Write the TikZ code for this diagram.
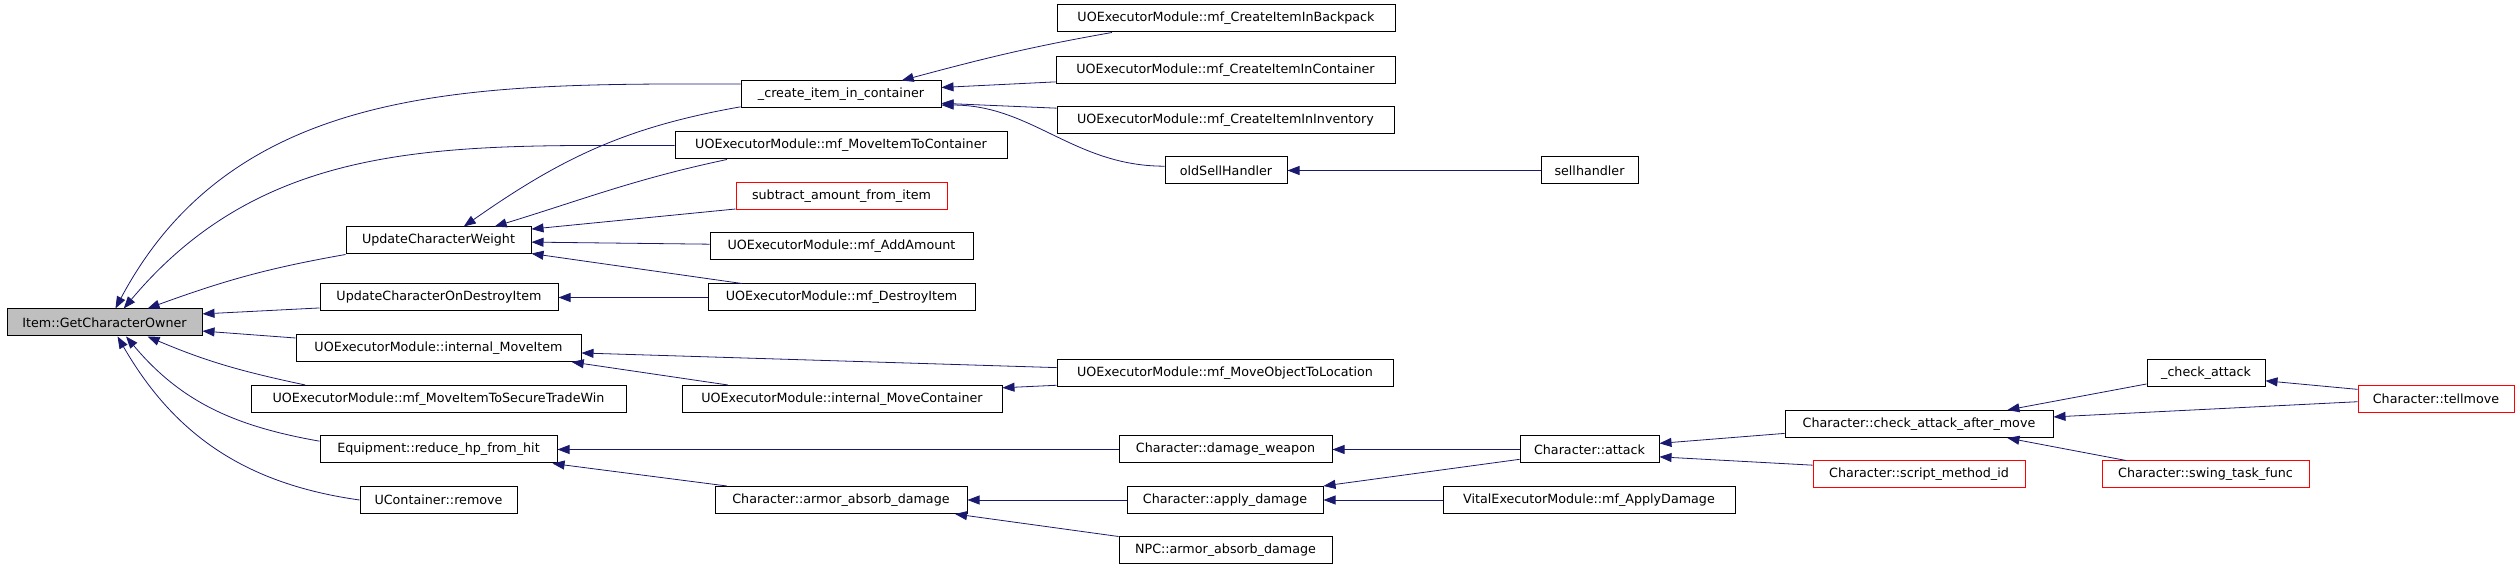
\documentclass[tikz,border=0pt]{standalone}
\usepackage{fontspec}
\setmainfont{DejaVu Sans}
\usepackage{xcolor}
\usepackage{tikz}
\usetikzlibrary{arrows.meta}
\definecolor{midnightblue}{RGB}{25,25,112}
\definecolor{ownergray}{RGB}{191,191,191}

\begin{document}
\begin{tikzpicture}[x=1pt, y=1pt, >={Triangle[length=12pt, width=9pt]},
    fn/.style={draw=black, line width=1pt, minimum height=27, inner sep=0pt,
      font=\fontsize{12.7}{15}\selectfont},
    fnred/.style={fn, draw=red},
    call/.style={->, midnightblue, line width=0.8pt}]
        \useasboundingbox (0,0) rectangle (2520,569);
        % Callee
        \node[fn, fill=ownergray, minimum width=195] (own) at (104.5,246.5) {Item::GetCharacterOwner};
        % First rank
        \node[fn, minimum width=185] (ucw) at (438.5,328.5) {UpdateCharacterWeight};
        \node[fn, minimum width=238] (ucod) at (439,271.5) {UpdateCharacterOnDestroyItem};
        \node[fn, minimum width=285] (imi) at (438.5,221) {UOExecutorModule::internal\_MoveItem};
        \node[fn, minimum width=375] (secure) at (438.5,170) {UOExecutorModule::mf\_MoveItemToSecureTradeWin};
        \node[fn, minimum width=237] (rhp) at (438.5,119.5) {Equipment::reduce\_hp\_from\_hit};
        \node[fn, minimum width=157] (remove) at (438.5,69) {UContainer::remove};
        % Second rank
        \node[fn, minimum width=200] (cic) at (841,474.5) {\_create\_item\_in\_container};
        \node[fn, minimum width=332] (mitc) at (841,423.5) {UOExecutorModule::mf\_MoveItemToContainer};
        \node[fnred, minimum width=211] (sub) at (841.5,373) {subtract\_amount\_from\_item};
        \node[fn, minimum width=263] (add) at (841.5,322.5) {UOExecutorModule::mf\_AddAmount};
        \node[fn, minimum width=267] (destroy) at (841.5,271.5) {UOExecutorModule::mf\_DestroyItem};
        \node[fn, minimum width=320] (imc) at (842,170) {UOExecutorModule::internal\_MoveContainer};
        \node[fn, minimum width=252] (aad) at (841,69) {Character::armor\_absorb\_damage};
        % Third rank
        \node[fn, minimum width=338] (backpack) at (1226,550.5) {UOExecutorModule::mf\_CreateItemInBackpack};
        \node[fn, minimum width=339] (container) at (1225.5,499) {UOExecutorModule::mf\_CreateItemInContainer};
        \node[fn, minimum width=337] (inventory) at (1225.5,449) {UOExecutorModule::mf\_CreateItemInInventory};
        \node[fn, minimum width=122] (osh) at (1226,398.5) {oldSellHandler};
        \node[fn, minimum width=336] (motl) at (1225,195.5) {UOExecutorModule::mf\_MoveObjectToLocation};
        \node[fn, minimum width=213] (dw) at (1225.5,119.5) {Character::damage\_weapon};
        \node[fn, minimum width=196] (ad) at (1225,69) {Character::apply\_damage};
        \node[fn, minimum width=213] (npc) at (1225.5,18.5) {NPC::armor\_absorb\_damage};
        % Fourth rank and beyond
        \node[fn, minimum width=97] (sh) at (1589.5,398.5) {sellhandler};
        \node[fn, minimum width=139] (att) at (1589.5,119.5) {Character::attack};
        \node[fn, minimum width=292] (vital) at (1589,69) {VitalExecutorModule::mf\_ApplyDamage};
        \node[fn, minimum width=268] (cam) at (1919,145) {Character::check\_attack\_after\_move};
        \node[fnred, minimum width=212] (smi) at (1919,94.5) {Character::script\_method\_id};
        \node[fn, minimum width=118] (ca) at (2206,195.5) {\_check\_attack};
        \node[fnred, minimum width=207] (stf) at (2205.5,94.5) {Character::swing\_task\_func};
        \node[fnred, minimum width=156] (tm) at (2436,170) {Character::tellmove};
        % Calls into Item::GetCharacterOwner
        \draw[call] (cic.174) to[out=180, in=62] (own.52);
        \draw[call] (mitc.west) to[out=180, in=50] (own.36);
        \draw[call] (ucw.south west) to[out=190, in=20] (own.18);
        \draw[call] (ucod.185) -- (own.5);
        \draw[call] (imi.176) -- (own.-5);
        \draw[call] (secure.174) to[out=168, in=-23] (own.-18);
        \draw[call] (rhp.176) to[out=170, in=-50] (own.-33);
        \draw[call] (remove.west) to[out=172, in=-60] (own.-47);
        % Second rank calls
        \draw[call] (cic.187) to[out=190, in=35] (ucw.29);
        \draw[call] (mitc.187.5) to[out=192, in=17] (ucw.14);
        \draw[call] (sub.187) -- (ucw.7);
        \draw[call] (add.179) -- (ucw.-1);
        \draw[call] (destroy.172) -- (ucw.-8);
        \draw[call] (destroy.west) -- (ucod.east);
        \draw[call] (imc.173) -- (imi.-6.5);
        \draw[call] (aad.173) -- (rhp.-7);
        % Third rank calls
        \draw[call] (backpack.187.5) to[out=190, in=15] (cic.13);
        \draw[call] (container.184) -- (cic.4);
        \draw[call] (inventory.176) -- (cic.-5);
        \draw[call] (osh.176) to[out=180, in=0] (cic.-6);
        \draw[call] (motl.178) -- (imi.-2);
        \draw[call] (motl.184) -- (imc.4);
        \draw[call] (dw.west) -- (rhp.east);
        \draw[call] (ad.west) -- (aad.east);
        \draw[call] (npc.north west) -- (aad.-7);
        % Fourth rank and beyond
        \draw[call] (sh.west) -- (osh.east);
        \draw[call] (att.west) -- (dw.east);
        \draw[call] (att.188) -- (ad.north east);
        \draw[call] (vital.west) -- (ad.east);
        \draw[call] (cam.184) -- (att.5);
        \draw[call] (smi.175) -- (att.-6);
        \draw[call] (ca.190) -- (cam.9);
        \draw[call] (tm.182) -- (cam.3);
        \draw[call] (stf.170) -- (cam.-9);
        \draw[call] (tm.173) -- (ca.-7);
    \end{tikzpicture}
\end{document}
